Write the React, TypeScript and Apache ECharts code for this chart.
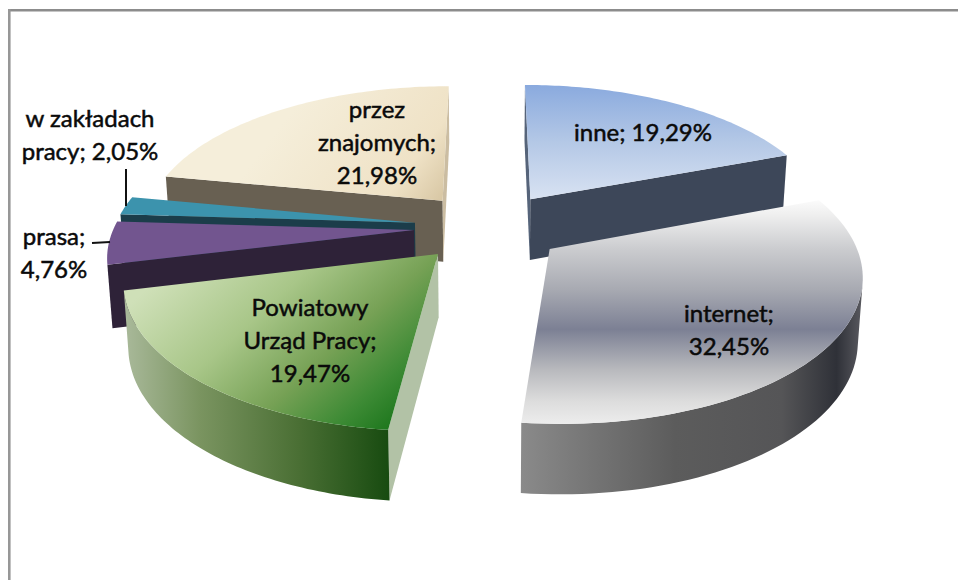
import React, { useEffect, useRef } from "react";
import * as echarts from "echarts";

const names = ["inne", "internet", "Powiatowy\nUrząd Pracy", "prasa", "w zakładach\npracy", "przez\nznajomych"];
const values = [19.29, 32.45, 19.47, 4.76, 2.05, 21.98];
const separators = [" ", "\n", "\n", "\n", " ", "\n"];
const paintOrder = [0, 5, 4, 3, 2, 1];

// projection of the exploded pie
const VIEW = { cx: 489, k: 0.156, explode: 0.25, topA: 300, topB: 140, topCy: 227, botA: 296, botB: 146, botCy: 289 };

const G = (x0: number, y0: number, x1: number, y1: number, stops: [number, string][]) =>
  new echarts.graphic.LinearGradient(x0, y0, x1, y1, stops.map(([offset, color]) => ({ offset, color })), true);

const skins: any[] = [
  {
    top: G(0, 85, 0, 199, [[0, "#8aaade"], [0.5, "#b4c8e6"], [1, "#d8e2f2"]]),
    wall: "#3d4759", start: "#56647a", end: "#3d4759",
  },
  {
    top: G(0, 200, 0, 423, [[0, "#fbfbfb"], [0.07, "#eeeeee"], [0.22, "#cbcccf"], [0.4, "#a8aab2"], [0.58, "#7c8094"], [0.76, "#b8b9bd"], [0.9, "#dcdcdc"], [1, "#ececec"]]),
    wall: G(521, 0, 864, 0, [[0, "#8a8a8a"], [0.45, "#5c5c5c"], [0.76, "#555557"], [0.92, "#2f3138"], [1, "#5c5c62"]]),
    start: "#555557", end: "#8a8a8a",
  },
  {
    top: G(190, 250, 370, 450, [[0, "#cfe0b8"], [0.35, "#a8c688"], [0.63, "#76a155"], [0.85, "#3c8a34"], [1, "#1c761c"]]),
    wall: G(125, 0, 392, 0, [[0, "#a9b99a"], [0.28, "#7a9460"], [0.65, "#4a6f34"], [1, "#164a0f"]]),
    start: "#b2c2a6", end: "#7a9460",
  },
  { top: "#72558f", wall: "#2e2238", start: "#2e2238", end: "#2e2238" },
  { top: "#3c93ad", wall: "#1b3d4a", start: "#1b3d4a", end: "#1b3d4a" },
  {
    top: G(300, 100, 445, 210, [[0, "#f5eeda"], [0.7, "#efe2c6"], [1, "#d4c29e"]]),
    wall: "#686052", start: "#686052", end: "#cbbda2",
  },
];

const labelSpots = [
  { x: 643, y: 131 },
  { x: 729, y: 329 },
  { x: 310, y: 339 },
  { x: 54, y: 252 },
  { x: 90, y: 134 },
  { x: 377, y: 141 },
];

const leaders = [
  [126, 169, 126, 206],
  [92, 243, 110, 242],
];

const fmt = (v: number) => v.toFixed(2).replace(".", ",") + "%";

const total = values.reduce((a, b) => a + b, 0);
const starts = values.map((_, i) => (values.slice(0, i).reduce((a, b) => a + b, 0) / total) * Math.PI * 2);
const ends = values.map((v, i) => starts[i] + (v / total) * Math.PI * 2);

function pt(i: number, theta: number | null, bottom: boolean): number[] {
  const m = (starts[i] + ends[i]) / 2;
  let u = VIEW.explode * Math.sin(m);
  let v = VIEW.explode * Math.cos(m);
  if (theta !== null) {
    u += Math.sin(theta);
    v += Math.cos(theta);
  }
  const w = 1 + VIEW.k * v;
  return bottom
    ? [VIEW.cx + (VIEW.botA * u) / w, VIEW.botCy - (VIEW.botB * v) / w]
    : [VIEW.cx + (VIEW.topA * u) / w, VIEW.topCy - (VIEW.topB * v) / w];
}

const area = (p: number[][]) => {
  let s = 0;
  p.forEach((a, i) => {
    const b = p[(i + 1) % p.length];
    s += a[0] * b[1] - b[0] * a[1];
  });
  return s / 2;
};

function renderItem(params: any, api: any) {
  const i = api.value(0);
  const order = params.dataIndex;
  const skin = skins[i];
  const t0 = starts[i];
  const t1 = ends[i];
  const steps = 72;
  const thetas: number[] = [];
  for (let s = 0; s <= steps; s++) thetas.push(t0 + ((t1 - t0) * s) / steps);
  const topArc = thetas.map((t) => pt(i, t, false));
  const botArc = thetas.map((t) => pt(i, t, true));
  const apexT = pt(i, null, false);
  const apexB = pt(i, null, true);
  const children: any[] = [];
  let z = order * 10;
  const poly = (points: number[][], fill: any) =>
    children.push({ type: "polygon", z2: z++, shape: { points }, style: { fill }, silent: true });

  const startFace = [apexT, topArc[0], botArc[0], apexB];
  if (area(startFace) < 0) poly(startFace, skin.start);
  const endFace = [topArc[steps], apexT, apexB, botArc[steps]];
  if (area(endFace) < 0) poly(endFace, skin.end);

  let first = -1;
  let last = -1;
  for (let s = 0; s < steps; s++) {
    if (area([topArc[s], topArc[s + 1], botArc[s + 1], botArc[s]]) < 0) {
      if (first < 0) first = s;
      last = s + 1;
    }
  }
  if (first >= 0) {
    poly([...topArc.slice(first, last + 1), ...botArc.slice(first, last + 1).reverse()], skin.wall);
  }
  poly([apexT, ...topArc], skin.top);

  return { type: "group", children };
}

function labelElements() {
  return names.map((n, i) => ({
    type: "text",
    z: 10,
    silent: true,
    style: {
      x: labelSpots[i].x,
      y: labelSpots[i].y,
      text: `${n};${separators[i]}${fmt(values[i])}`,
      fill: "#0a0a0a",
      stroke: "#0a0a0a",
      lineWidth: 0.5,
      font: "24px Lato",
      lineHeight: 33,
      align: "center",
      verticalAlign: "middle",
    },
  }));
}

export default function App() {
  const ref = useRef<HTMLDivElement>(null);
  useEffect(() => {
    const chart = echarts.init(ref.current!, null, { renderer: "svg" });
    chart.setOption({
      animation: false,
      backgroundColor: "#ffffff",
      graphic: [
        { type: "rect", z: 5, shape: { x: 8, y: 9, width: 950, height: 2.6 }, style: { fill: "#8c8c8c" }, silent: true },
        { type: "rect", z: 5, shape: { x: 8, y: 9, width: 2.6, height: 571 }, style: { fill: "#979797" }, silent: true },
        ...leaders.map(([x1, y1, x2, y2]) => ({
          type: "line",
          z: 5,
          silent: true,
          shape: { x1, y1, x2, y2 },
          style: { stroke: "#111111", lineWidth: 2 },
        })),
        ...labelElements(),
      ],
      series: [
        {
          type: "custom",
          coordinateSystem: "none",
          silent: true,
          renderItem,
          data: paintOrder.map((i) => [i, values[i]]),
        },
      ],
    });
    return () => chart.dispose();
  }, []);
  return <div ref={ref} style={{ position: "fixed", left: 0, top: 0, width: 958, height: 580 }} />;
}
